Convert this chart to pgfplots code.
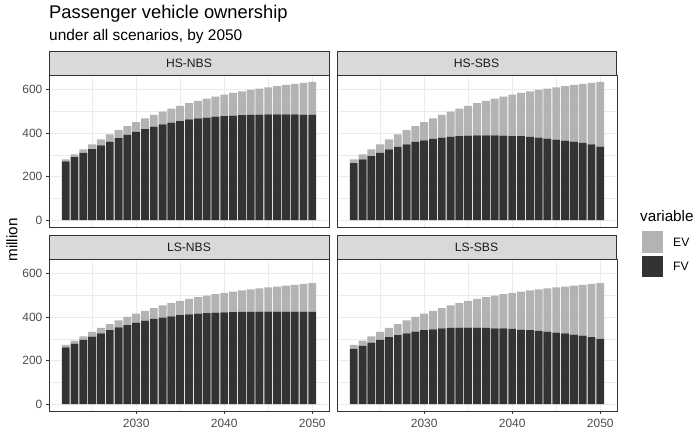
\documentclass[border=0pt]{standalone}
\usepackage{fontspec}
\setmainfont{Liberation Sans}
\usepackage{pgfplots}
\pgfplotsset{compat=1.18}
\usepackage{pgfplotstable}
\definecolor{fvc}{HTML}{333333}
\definecolor{evc}{HTML}{B3B3B3}
\definecolor{g10}{HTML}{1A1A1A}
\definecolor{g20}{HTML}{333333}
\definecolor{g30}{HTML}{4D4D4D}
\definecolor{g85}{HTML}{D9D9D9}
\definecolor{g92}{HTML}{EBEBEB}

\pgfplotstableread{
year FV EV
2022 270 10
2023 290 13
2024 309 17
2025 327 22
2026 344 28
2027 361 33
2028 377 37
2029 392 41
2030 406 45
2031 419 49
2032 430 54
2033 440 59
2034 449 64
2035 456 70
2036 463 75
2037 468 81
2038 472 87
2039 476 92
2040 479 98
2041 481 104
2042 483 109
2043 484 115
2044 485 120
2045 486 125
2046 486 131
2047 486 136
2048 486 141
2049 485 147
2050 485 151
}\hsnbs

\pgfplotstableread{
year FV EV
2022 262 18
2023 279 24
2024 294 32
2025 309 40
2026 325 47
2027 337 57
2028 348 66
2029 360 73
2030 367 84
2031 374 94
2032 380 104
2033 384 115
2034 387 126
2035 389 137
2036 390 148
2037 390 159
2038 390 169
2039 389 179
2040 387 190
2041 386 199
2042 383 209
2043 380 219
2044 375 230
2045 370 241
2046 366 251
2047 361 261
2048 355 272
2049 348 284
2050 338 298
}\hssbs

\pgfplotstableread{
year FV EV
2022 261 11
2023 278 14
2024 295 17
2025 311 21
2026 326 25
2027 340 28
2028 353 32
2029 364 37
2030 375 41
2031 384 45
2032 392 50
2033 398 56
2034 404 61
2035 409 66
2036 413 71
2037 416 76
2038 419 80
2039 421 85
2040 422 90
2041 423 95
2042 424 99
2043 424 104
2044 425 108
2045 425 112
2046 425 116
2047 425 120
2048 425 124
2049 425 128
2050 424 133
}\lsnbs

\pgfplotstableread{
year FV EV
2022 254 18
2023 268 24
2024 283 29
2025 295 37
2026 308 43
2027 317 51
2028 326 59
2029 334 67
2030 340 76
2031 344 85
2032 348 94
2033 351 103
2034 352 113
2035 352 123
2036 352 132
2037 351 141
2038 349 150
2039 348 158
2040 346 166
2041 343 175
2042 340 183
2043 337 191
2044 334 199
2045 329 208
2046 325 216
2047 320 225
2048 315 234
2049 308 245
2050 300 257
}\lssbs

\pgfplotsset{
  panel/.style={
    scale only axis, width=280bp, height=152bp,
    anchor=north west,
    xmin=2020.1, xmax=2051.9, ymin=-31.8, ymax=667.8,
    axis line style={g20, line width=0.8bp},
    xtick={2030,2040,2050}, ytick={0,200,400,600},
    minor xtick={2025,2035,2045}, minor ytick={100,300,500},
    grid=both,
    major grid style={g92, line width=0.8bp},
    minor grid style={g92, line width=0.4bp},
    tick align=outside, major tick length=3bp, minor tick length=0pt,
    xtick pos=bottom, ytick pos=left,
    tick style={g20, line width=0.6bp},
    ticklabel style={font=\fontsize{12}{14}\selectfont, text=g30},
    yticklabel style={inner sep=3.5bp},
    xticklabel style={inner sep=4.5bp},
    /pgf/number format/assume math mode=true,
    /pgf/number format/1000 sep={},
    ybar stacked, bar width=0.9,
  },
  notx/.style={xticklabels={,,}, x tick style={draw=none}},
  noty/.style={yticklabels={,,,}, y tick style={draw=none}},
}

\newcommand{\bars}[1]{%
  \addplot[fill=fvc, draw=none] table[x=year, y=FV] {#1};
  \addplot[fill=evc, draw=none] table[x=year, y=EV] {#1};
}

\begin{document}
\begin{tikzpicture}
\useasboundingbox (0,0) rectangle (699bp,433bp);

\begin{axis}[panel, notx, at={(49bp,358bp)}]
\bars{\hsnbs}
\end{axis}
\begin{axis}[panel, notx, noty, at={(337bp,358bp)}]
\bars{\hssbs}
\end{axis}
\begin{axis}[panel, at={(49bp,174bp)}]
\bars{\lsnbs}
\end{axis}
\begin{axis}[panel, noty, at={(337bp,174bp)}]
\bars{\lssbs}
\end{axis}

% strips
\tikzset{strip/.style={draw=g20, fill=g85, line width=0.8bp},
  striptext/.style={font=\fontsize{12.2}{14}\selectfont, text=g10}}
\draw[strip] (49bp,358bp) rectangle (329bp,382bp);
\draw[strip] (337bp,358bp) rectangle (616bp,382bp);
\draw[strip] (49bp,174bp) rectangle (329bp,198bp);
\draw[strip] (337bp,174bp) rectangle (616bp,198bp);
\node[striptext] at (189bp,370bp) {HS-NBS};
\node[striptext] at (476.5bp,370bp) {HS-SBS};
\node[striptext] at (189bp,186bp) {LS-NBS};
\node[striptext] at (476.5bp,186bp) {LS-SBS};

% titles
\node[anchor=base west, inner sep=0pt, font=\fontsize{18.4}{22}\selectfont] at (49bp,414.7bp) {Passenger vehicle ownership};
\node[anchor=base west, inner sep=0pt, font=\fontsize{15.5}{18}\selectfont] at (49bp,392.3bp) {under all scenarios, by 2050};
\node[rotate=90, inner sep=0pt, font=\fontsize{15.3}{18}\selectfont] at (12bp,193bp) {million};

% legend
\node[anchor=west, inner sep=0pt, font=\fontsize{15.3}{18}\selectfont] at (640bp,217bp) {variable};
\fill[evc] (641.7bp,180.3bp) rectangle (663.3bp,202bp);
\fill[fvc] (641.7bp,155.7bp) rectangle (663.3bp,177.3bp);
\node[anchor=west, inner sep=0pt, font=\fontsize{12.2}{14}\selectfont] at (673bp,191bp) {EV};
\node[anchor=west, inner sep=0pt, font=\fontsize{12.2}{14}\selectfont] at (673bp,166.5bp) {FV};
\end{tikzpicture}
\end{document}
